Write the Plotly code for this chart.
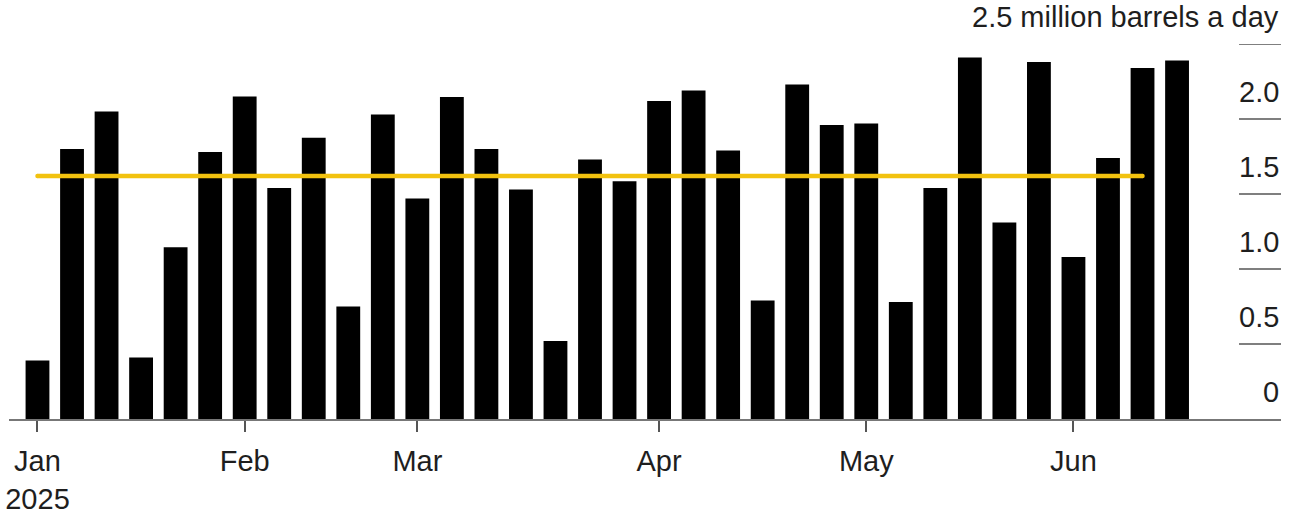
import plotly.graph_objects as go

# Weekly values, million barrels a day
values = [0.39, 1.80, 2.05, 0.41, 1.145, 1.78, 2.15, 1.54, 1.875, 0.75,
          2.03, 1.47, 2.146, 1.80, 1.53, 0.52, 1.73, 1.585, 2.12, 2.19,
          1.79, 0.79, 2.23, 1.96, 1.97, 0.78, 1.54, 2.41, 1.31, 2.38,
          1.08, 1.74, 2.34, 2.39]
avg_value = 1.62
avg_span = [0, 32]  # bar indices where the average line starts / ends

month_tick_idx = [0, 6, 11, 18, 24, 30]
month_tick_text = ["Jan<br>2025", "Feb", "Mar", "Apr", "May", "Jun"]

y_ticks = [0, 0.5, 1.0, 1.5, 2.0, 2.5]
y_tick_text = ["0", "0.5", "1.0", "1.5", "2.0", "2.5 million barrels a day"]

FONT = "Liberation Sans, Arial, sans-serif"
TXT = "#1e1e1e"
GRID = "#555555"
YELLOW = "#f2c20f"

x = list(range(len(values)))

fig = go.Figure()
fig.add_trace(go.Bar(x=x, y=values, marker=dict(color="#000000", line=dict(width=0)),
                     showlegend=False, hoverinfo="y"))
fig.add_trace(go.Scatter(x=avg_span, y=[avg_value, avg_value], mode="lines+markers",
                         line=dict(color=YELLOW, width=4.5),
                         marker=dict(color=YELLOW, size=4.5, line=dict(width=0)),
                         showlegend=False))

# short gridlines at right + tick labels above them
for v, t in zip(y_ticks, y_tick_text):
    if v > 0:
        fig.add_shape(type="line", xref="paper", yref="y", x0=0.967, x1=1.0, y0=v, y1=v,
                      line=dict(color=GRID, width=1.5), layer="below")
    fig.add_annotation(xref="paper", yref="y", x=1.0, y=v, text=t, showarrow=False,
                       xanchor="right", yanchor="middle", yshift=27,
                       font=dict(family=FONT, size=29, color=TXT))

fig.update_layout(
    width=1300, height=519,
    margin=dict(l=9, r=19, t=44, b=100, autoexpand=False),
    paper_bgcolor="white", plot_bgcolor="white",
    bargap=0.31,
    xaxis=dict(range=[-0.825, 36.01], tickmode="array", tickvals=month_tick_idx,
               ticktext=month_tick_text, ticks="outside", ticklen=11, tickwidth=1.5,
               tickcolor=GRID, showline=True, linecolor="#777777", linewidth=2,
               showgrid=False, zeroline=False, automargin=False, ticklabelstandoff=4,
               ticklabeloverflow="allow",
               tickfont=dict(family=FONT, size=29, color=TXT)),
    yaxis=dict(range=[0, 2.5], showgrid=False, zeroline=False, showticklabels=False,
               showline=False, automargin=False),
)

fig.write_html("out.html", config={"displayModeBar": False},
               post_script="document.body.style.margin='0';document.body.style.overflow='hidden';")
